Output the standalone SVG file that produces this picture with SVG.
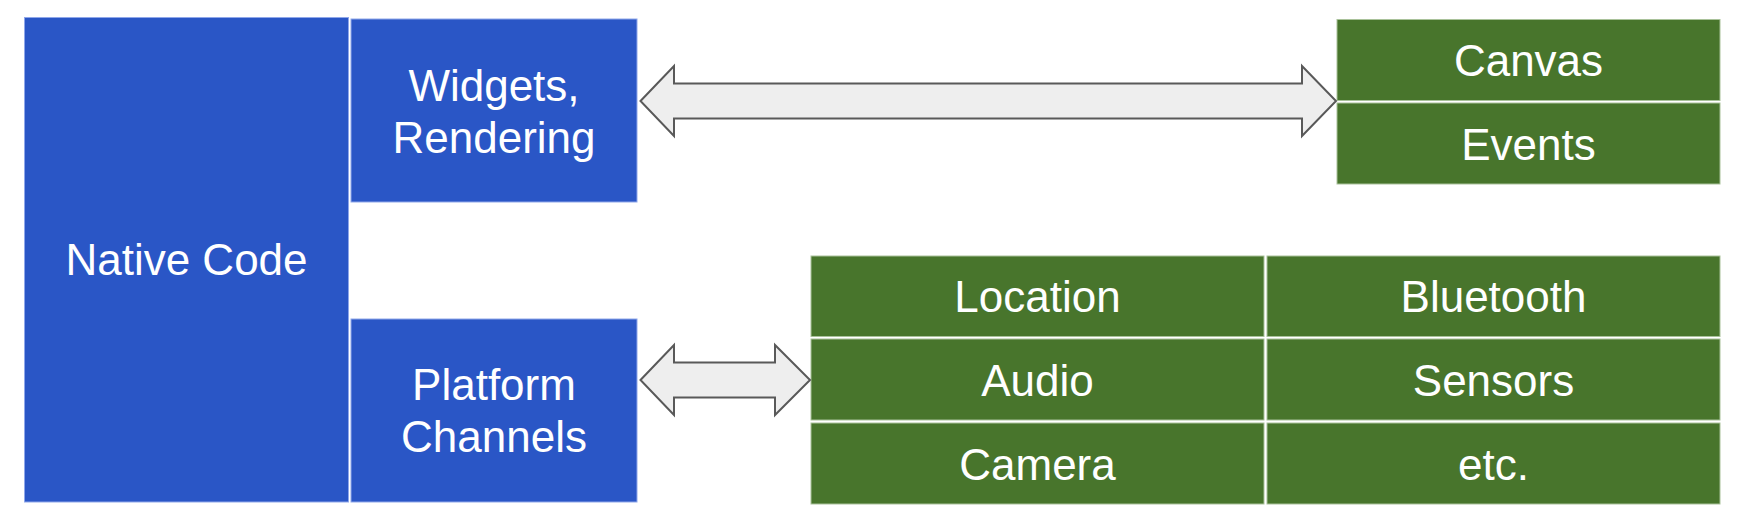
<svg xmlns="http://www.w3.org/2000/svg" width="1744" height="524" viewBox="0 0 1744 524">
<style>
.blue{fill:#2a56c6;stroke:#8fa7ea;stroke-width:1}
.green{fill:#48752c;stroke:#a9c29a;stroke-width:1}
.lbl{font-family:"Liberation Sans",Arial,sans-serif;font-size:44px;fill:#ffffff;text-anchor:middle}
.arrow{fill:#eeeeee;stroke:#595959;stroke-width:2;stroke-linejoin:miter}
</style>
<rect width="1744" height="524" fill="#ffffff"/>
<g id="native-code"><rect class="blue" x="24.5" y="17.5" width="324" height="484.5"/><text class="lbl" x="186.5" y="275">Native Code</text></g>
<g id="widgets-rendering"><rect class="blue" x="351" y="19" width="286" height="183"/><text class="lbl" x="494" y="101">Widgets,</text><text class="lbl" x="494" y="153">Rendering</text></g>
<g id="platform-channels"><rect class="blue" x="351" y="319" width="286" height="183"/><text class="lbl" x="494" y="400">Platform</text><text class="lbl" x="494" y="452">Channels</text></g>
<g id="canvas"><rect class="green" x="1337" y="19.5" width="383" height="81"/><text class="lbl" x="1528.5" y="76">Canvas</text></g>
<g id="events"><rect class="green" x="1337" y="103" width="383" height="81"/><text class="lbl" x="1528.5" y="160">Events</text></g>
<g id="location"><rect class="green" x="811" y="256" width="453" height="80.5"/><text class="lbl" x="1037.5" y="312">Location</text></g>
<g id="bluetooth"><rect class="green" x="1267" y="256" width="453" height="80.5"/><text class="lbl" x="1493.5" y="312">Bluetooth</text></g>
<g id="audio"><rect class="green" x="811" y="339" width="453" height="81"/><text class="lbl" x="1037.5" y="395.5">Audio</text></g>
<g id="sensors"><rect class="green" x="1267" y="339" width="453" height="81"/><text class="lbl" x="1493.5" y="395.5">Sensors</text></g>
<g id="camera"><rect class="green" x="811" y="423" width="453" height="81"/><text class="lbl" x="1037.5" y="479.5">Camera</text></g>
<g id="etc"><rect class="green" x="1267" y="423" width="453" height="81"/><text class="lbl" x="1493.5" y="479.5">etc.</text></g>
<g id="connectors">
<path class="arrow" d="M640.5,101 L674,66 L674,83.5 L1302,83.5 L1302,66 L1336,101 L1302,136 L1302,118.5 L674,118.5 L674,136 Z"/>
<path class="arrow" d="M640.5,380 L674,345 L674,362.5 L775,362.5 L775,345 L810,380 L775,415 L775,397.5 L674,397.5 L674,415 Z"/>
</g>
</svg>
